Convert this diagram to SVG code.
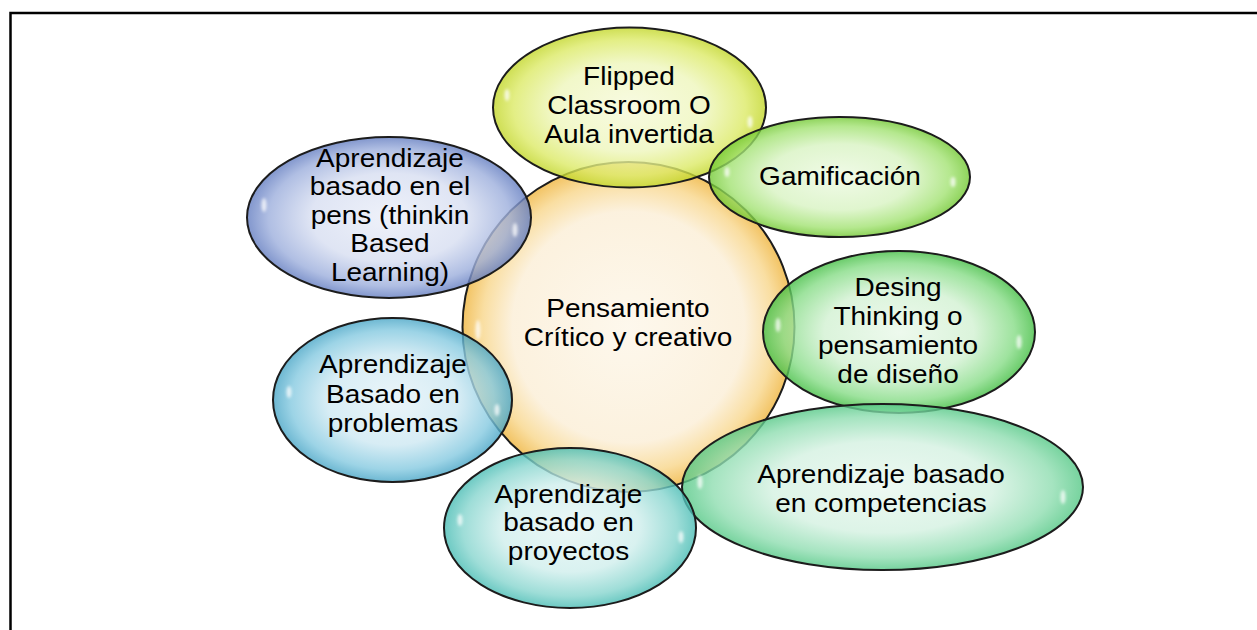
<svg xmlns="http://www.w3.org/2000/svg" width="1257" height="630" viewBox="0 0 1257 630">
<style>
.bub{stroke:#1c1c1c;stroke-width:2;fill-opacity:0.8}
.lbl{font-family:"Liberation Sans",Arial,sans-serif;font-size:25px;fill:#000;text-anchor:middle}
.hl{fill:#fff;opacity:0.75;filter:url(#blur)}
.frame{stroke:#000;stroke-width:2.5;fill:none}
</style>
<defs>
<filter id="blur" x="-50%" y="-50%" width="200%" height="200%"><feGaussianBlur stdDeviation="1.8"/></filter>
<radialGradient id="gCenter" cx="50%" cy="50%" r="50%"><stop offset="0" stop-color="#FDF6E8"/><stop offset="0.7" stop-color="#FBEED6"/><stop offset="0.88" stop-color="#F8D68A"/><stop offset="1" stop-color="#EFB43C"/></radialGradient>
<radialGradient id="gFlip" cx="50%" cy="50%" r="50%"><stop offset="0" stop-color="#F6FADA"/><stop offset="0.55" stop-color="#EEF6BC"/><stop offset="0.85" stop-color="#DCEA66"/><stop offset="1" stop-color="#C2D628"/></radialGradient>
<radialGradient id="gGam" cx="50%" cy="50%" r="50%"><stop offset="0" stop-color="#EDF9E2"/><stop offset="0.55" stop-color="#D8F3C2"/><stop offset="0.85" stop-color="#A2E272"/><stop offset="1" stop-color="#72C832"/></radialGradient>
<radialGradient id="gDes" cx="50%" cy="50%" r="50%"><stop offset="0" stop-color="#E9F8E9"/><stop offset="0.55" stop-color="#D2F1D2"/><stop offset="0.85" stop-color="#86DC86"/><stop offset="1" stop-color="#44BE44"/></radialGradient>
<radialGradient id="gComp" cx="50%" cy="50%" r="50%"><stop offset="0" stop-color="#E9F7EF"/><stop offset="0.55" stop-color="#D4F1E1"/><stop offset="0.85" stop-color="#8EDDB0"/><stop offset="1" stop-color="#55C886"/></radialGradient>
<radialGradient id="gProy" cx="50%" cy="50%" r="50%"><stop offset="0" stop-color="#E7F6F5"/><stop offset="0.55" stop-color="#CFEEEC"/><stop offset="0.85" stop-color="#86D5CE"/><stop offset="1" stop-color="#48BCB4"/></radialGradient>
<radialGradient id="gProb" cx="50%" cy="50%" r="50%"><stop offset="0" stop-color="#E6F3F8"/><stop offset="0.55" stop-color="#CDE8F2"/><stop offset="0.85" stop-color="#84C9E0"/><stop offset="1" stop-color="#48A5C6"/></radialGradient>
<radialGradient id="gPens" cx="50%" cy="50%" r="50%"><stop offset="0" stop-color="#EAEEF8"/><stop offset="0.55" stop-color="#D7DEF1"/><stop offset="0.85" stop-color="#9CAEDC"/><stop offset="1" stop-color="#627CC0"/></radialGradient>
</defs>
<rect width="1257" height="630" fill="#fff"/>
<path class="frame" d="M10.5 630 V13 H1257"/>
<g id="connectors"/>
<g id="center">
<ellipse class="bub" cx="628.5" cy="327" rx="166" ry="165" fill="url(#gCenter)"/>
<ellipse class="hl" cx="478" cy="330" rx="2.5" ry="10"/>
<g transform="translate(628 0) scale(1.12 1)"><text class="lbl" x="0" y="317">Pensamiento</text><text class="lbl" x="0" y="346.5">Crítico y creativo</text></g>
</g>
<g id="flipped">
<ellipse class="bub" cx="629.5" cy="107.5" rx="136.5" ry="80" fill="url(#gFlip)"/>
<ellipse class="hl" cx="507" cy="95" rx="2.5" ry="6"/><ellipse class="hl" cx="750" cy="122" rx="2.5" ry="6"/>
<g transform="translate(629 0) scale(1.12 1)"><text class="lbl" x="0" y="85.5">Flipped</text><text class="lbl" x="0" y="114.5">Classroom O</text><text class="lbl" x="0" y="143.5">Aula invertida</text></g>
</g>
<g id="gamificacion">
<ellipse class="bub" cx="839.5" cy="177" rx="130.5" ry="60" fill="url(#gGam)"/>
<ellipse class="hl" cx="727" cy="172" rx="2.5" ry="5"/><ellipse class="hl" cx="953" cy="182" rx="2.5" ry="5"/>
<g transform="translate(840 0) scale(1.12 1)"><text class="lbl" x="0" y="185">Gamificación</text></g>
</g>
<g id="desing">
<ellipse class="bub" cx="899" cy="332" rx="136" ry="81" fill="url(#gDes)"/>
<ellipse class="hl" cx="778" cy="325" rx="2.5" ry="7"/><ellipse class="hl" cx="1019" cy="342" rx="2.5" ry="7"/>
<g transform="translate(898 0) scale(1.12 1)"><text class="lbl" x="0" y="296.5">Desing</text><text class="lbl" x="0" y="325.5">Thinking o</text><text class="lbl" x="0" y="354.5">pensamiento</text><text class="lbl" x="0" y="383.5">de diseño</text></g>
</g>
<g id="competencias">
<ellipse class="bub" cx="882.5" cy="487" rx="200.5" ry="83" fill="url(#gComp)"/>
<ellipse class="hl" cx="700" cy="482" rx="2.5" ry="7"/><ellipse class="hl" cx="1063" cy="497" rx="2.5" ry="7"/>
<g transform="translate(881 0) scale(1.12 1)"><text class="lbl" x="0" y="483.5">Aprendizaje basado</text><text class="lbl" x="0" y="512">en competencias</text></g>
</g>
<g id="proyectos">
<ellipse class="bub" cx="570" cy="528" rx="126" ry="80" fill="url(#gProy)"/>
<ellipse class="hl" cx="460" cy="520" rx="2.5" ry="6"/><ellipse class="hl" cx="681" cy="537" rx="2.5" ry="6"/>
<g transform="translate(568.5 0) scale(1.12 1)"><text class="lbl" x="0" y="503">Aprendizaje</text><text class="lbl" x="0" y="531.5">basado en</text><text class="lbl" x="0" y="560">proyectos</text></g>
</g>
<g id="problemas">
<ellipse class="bub" cx="392.5" cy="400" rx="119.5" ry="82" fill="url(#gProb)"/>
<ellipse class="hl" cx="289" cy="392" rx="2.5" ry="6"/><ellipse class="hl" cx="497" cy="410" rx="2.5" ry="6"/>
<g transform="translate(393 0) scale(1.12 1)"><text class="lbl" x="0" y="373.5">Aprendizaje</text><text class="lbl" x="0" y="403">Basado en</text><text class="lbl" x="0" y="432">problemas</text></g>
</g>
<g id="pens">
<ellipse class="bub" cx="389" cy="217.5" rx="142" ry="80.5" fill="url(#gPens)"/>
<ellipse class="hl" cx="264" cy="205" rx="2.5" ry="7"/><ellipse class="hl" cx="515" cy="230" rx="2.5" ry="7"/>
<g transform="translate(390 0) scale(1.12 1)"><text class="lbl" x="0" y="167">Aprendizaje</text><text class="lbl" x="0" y="195.5">basado en el</text><text class="lbl" x="0" y="224">pens (thinkin</text><text class="lbl" x="0" y="252.5">Based</text><text class="lbl" x="0" y="281">Learning)</text></g>
</g>
</svg>
